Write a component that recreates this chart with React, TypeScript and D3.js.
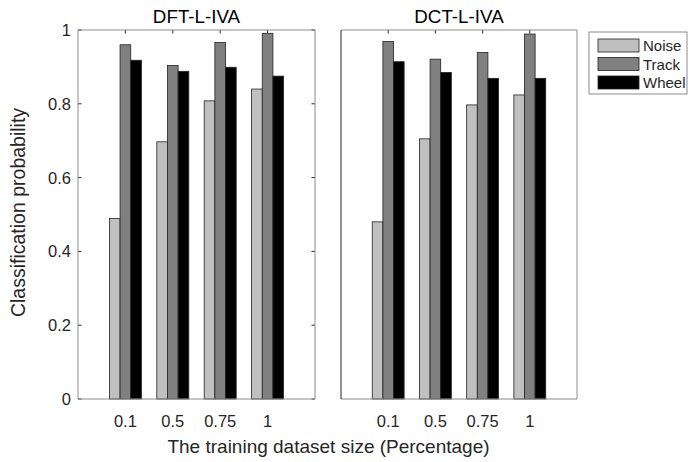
import React from "react";
import * as d3 from "d3";

const categories = ["0.1", "0.5", "0.75", "1"];
const seriesNames = ["Noise", "Track", "Wheel"];
const seriesColors = ["#c0c0c0", "#808080", "#000000"];
const panelTitles = ["DFT-L-IVA", "DCT-L-IVA"];
const dftNoise = [0.489, 0.697, 0.808, 0.840];
const dftTrack = [0.960, 0.904, 0.966, 0.991];
const dftWheel = [0.918, 0.888, 0.899, 0.875];
const dctNoise = [0.480, 0.705, 0.797, 0.824];
const dctTrack = [0.969, 0.921, 0.939, 0.989];
const dctWheel = [0.914, 0.885, 0.869, 0.869];
const yTicks = [0, 0.2, 0.4, 0.6, 0.8, 1];

const panels = [
  { title: panelTitles[0], series: [dftNoise, dftTrack, dftWheel], x0: 78, x1: 315, showY: true },
  { title: panelTitles[1], series: [dctNoise, dctTrack, dctWheel], x0: 341, x1: 577, showY: false },
];

const FONT = "'Liberation Sans', Arial, Helvetica, sans-serif";
const TXT = "#262626";
const AX = "#8c8c8c";

export default function App() {
  const top = 30;
  const bottom = 399;
  const y = d3.scaleLinear().domain([0, 1]).range([bottom, top]);
  const barW = 0.225;

  return (
    <svg width={700} height={462} style={{ position: "absolute", left: 0, top: 0, background: "#fff" }} fontFamily={FONT}>
      <rect x={0} y={0} width={700} height={462} fill="#fff" />
      {panels.map((p, pi) => {
        const x = d3.scaleLinear().domain([0, 5]).range([p.x0, p.x1]);
        const unit = x(1) - x(0);
        return (
          <g key={pi}>
            <rect x={p.x0} y={top} width={p.x1 - p.x0} height={bottom - top} fill="#fff" />
            {categories.map((c, ci) => (
              <g key={ci}>
                <line x1={x(ci + 1)} x2={x(ci + 1)} y1={top} y2={top + 3.5} stroke={TXT} strokeWidth={1} />
                <line x1={x(ci + 1)} x2={x(ci + 1)} y1={bottom} y2={bottom - 3.5} stroke={TXT} strokeWidth={1} />
              </g>
            ))}
            {p.series.map((vals, si) =>
              vals.map((v, ci) => {
                const cx = ci + 1 + (si - 1) * barW;
                const bx = x(cx - barW / 2);
                return (
                  <rect
                    key={si + "-" + ci}
                    x={bx}
                    y={y(v)}
                    width={barW * unit}
                    height={y(0) - y(v)}
                    fill={seriesColors[si]}
                    stroke="#222"
                    strokeWidth={0.8}
                  />
                );
              })
            )}
            {p.showY &&
              yTicks.map((t, ti) => (
                <g key={ti}>
                  <line x1={p.x0} x2={p.x0 + 3.5} y1={y(t)} y2={y(t)} stroke={TXT} strokeWidth={1} />
                  <line x1={p.x1} x2={p.x1 - 3.5} y1={y(t)} y2={y(t)} stroke={TXT} strokeWidth={1} />
                  <text x={p.x0 - 7} y={y(t) + 6} textAnchor="end" fontSize={16.5} fill={TXT}>
                    {String(t)}
                  </text>
                </g>
              ))}
            <line x1={p.x0} x2={p.x1} y1={top} y2={top} stroke={AX} />
            <line x1={p.x0} x2={p.x1} y1={bottom} y2={bottom} stroke={AX} />
            <line x1={p.x1} x2={p.x1} y1={top} y2={bottom} stroke={AX} />
            <line x1={p.x0} x2={p.x0} y1={top} y2={bottom} stroke={p.showY ? AX : "#262626"} />
            {categories.map((c, ci) => (
              <text key={ci} x={x(ci + 1)} y={426.5} textAnchor="middle" fontSize={16.5} fill={TXT}>
                {c}
              </text>
            ))}
            <text x={(p.x0 + p.x1) / 2} y={23} textAnchor="middle" fontSize={18.8} fill="#000">
              {p.title}
            </text>
          </g>
        );
      })}
      <text
        transform={`translate(25,${(top + bottom) / 2 - 2}) rotate(-90)`}
        textAnchor="middle"
        fontSize={19.5}
        fill={TXT}
      >
        Classification probability
      </text>
      <text x={(78 + 577) / 2 + 1} y={453} textAnchor="middle" fontSize={19} fill={TXT}>
        The training dataset size (Percentage)
      </text>
      <g>
        <rect x={589} y={32} width={98} height={62} fill="#fff" stroke={AX} />
        {seriesNames.map((n, i) => (
          <g key={i}>
            <rect x={598} y={39 + i * 18.5} width={41} height={13} fill={seriesColors[i]} stroke="#222" strokeWidth={0.8} />
            <text x={643} y={51 + i * 18.5} fontSize={15} fill={TXT}>
              {n}
            </text>
          </g>
        ))}
      </g>
    </svg>
  );
}
